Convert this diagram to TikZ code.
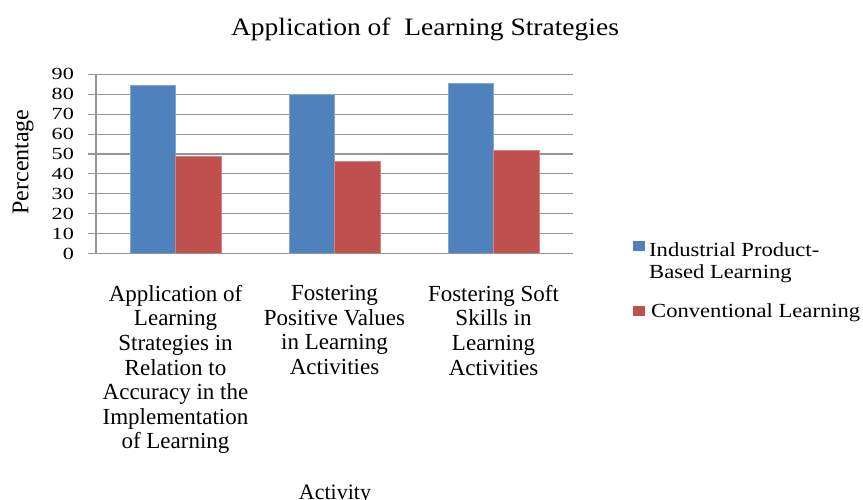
\documentclass[tikz,border=0pt]{standalone}
\usepackage{fontspec}
\setmainfont{Liberation Serif}
\newfontfamily\titlefont{Liberation Serif}[FakeStretch=1.1]
\newfontfamily\tickfont{Liberation Serif}[FakeStretch=1.3]
\newfontfamily\legfont{Liberation Serif}[FakeStretch=1.13]
\definecolor{barblue}{HTML}{4F81BD}
\definecolor{barred}{HTML}{C0504D}
\definecolor{gridgray}{HTML}{969696}
\tikzset{
  gridline/.style={draw=gridgray, line width=1.1pt},
  ticklabel/.style={inner sep=0pt, anchor=east, font=\tickfont\fontsize{17}{17}\selectfont},
  catlabel/.style={inner sep=0pt, anchor=north, align=center, font=\fontsize{23}{24.6}\selectfont},
  legtext/.style={inner sep=0pt, anchor=base west, align=left, font=\legfont\fontsize{20}{22.3}\selectfont},
  bluebar/.style={fill=barblue, draw=barblue!70!white, line width=0.7pt},
  redbar/.style={fill=barred, draw=barred!70!white, line width=0.7pt},
}
\begin{document}
\begin{tikzpicture}[x=1pt,y=-1pt]
\useasboundingbox (0,0) rectangle (863,500);
\fill[white] (0,0) rectangle (863,500);
% title
\node[inner sep=0pt, anchor=base, font=\titlefont\fontsize{25}{25}\selectfont] (title) at (425,36) {Application of\ \ Learning Strategies};
% grid and ticks
\foreach \v in {0,10,...,90} {
  \draw[gridline] (88,{253.5-1.99*\v}) -- (573,{253.5-1.99*\v});
  \node[ticklabel] (tick\v) at (74,{253.5-1.99*\v}) {\v};
}
\draw[gridline] (96,74.4) -- (96,253.5);
% bars
\foreach \c/\b/\r in {0/84.3/48.8, 1/79.8/46.5, 2/85.3/51.8} {
  \pgfmathsetmacro\cx{175.5+159*\c}
  \draw[bluebar] ({\cx-45.5},{253.5-1.99*\b}) rectangle (\cx,253);
  \draw[redbar] (\cx,{253.5-1.99*\r}) rectangle ({\cx+45.5},253);
}
\draw[gridline] (88,253.5) -- (573,253.5);
% axis titles
\node[inner sep=0pt, rotate=90, font=\fontsize{24}{24}\selectfont] (ytitle) at (23,162) {Percentage};
\node[inner sep=0pt, anchor=base, font=\fontsize{22}{22}\selectfont] (xtitle) at (335,499) {Activity};
% category labels
\node[catlabel] (cat1) at (175.5,285) {Application of\\Learning\\Strategies in\\Relation to\\Accuracy in the\\Implementation\\of Learning};
\node[catlabel] (cat2) at (334.5,285) {Fostering\\Positive Values\\in Learning\\Activities};
\node[catlabel] (cat3) at (493.5,285) {Fostering Soft\\Skills in\\Learning\\Activities};
% legend
\fill[barblue] (633,241) rectangle (645,251);
\node[legtext] (leg1) at (649,278.3) {Industrial Product-\\Based Learning};
\fill[barred] (633,305.5) rectangle (645,316);
\node[legtext] (leg2) at (651,317) {Conventional Learning};
\end{tikzpicture}
\end{document}
